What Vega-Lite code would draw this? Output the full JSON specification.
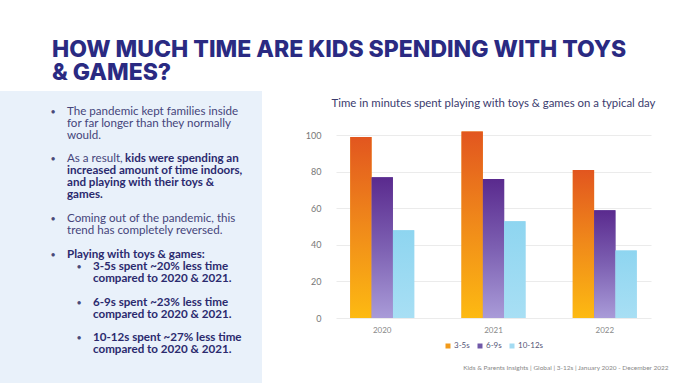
{
  "$schema": "https://vega.github.io/schema/vega-lite/v6.json",
  "background": "white",
  "padding": {"left": 0, "top": 38, "right": 0, "bottom": 0},
  "config": {"view": {"stroke": null}, "font": "Lato"},
  "columns": 2,
  "spacing": 43,
  "resolve": {"scale": {"color": "independent"}, "legend": {"color": "independent"}},
  "title": {
    "text": ["HOW MUCH TIME ARE KIDS SPENDING WITH TOYS", "& GAMES?"],
    "anchor": "start",
    "dx": 52,
    "font": "Inter",
    "fontSize": 23,
    "fontWeight": 800,
    "color": "#2a2a82",
    "lineHeight": 23.5,
    "offset": 6
  },
  "datasets": {
    "bars": [
      {"year": "2020", "group": "3-5s", "minutes": 99},
      {"year": "2020", "group": "6-9s", "minutes": 77},
      {"year": "2020", "group": "10-12s", "minutes": 48},
      {"year": "2021", "group": "3-5s", "minutes": 102},
      {"year": "2021", "group": "6-9s", "minutes": 76},
      {"year": "2021", "group": "10-12s", "minutes": 53},
      {"year": "2022", "group": "3-5s", "minutes": 81},
      {"year": "2022", "group": "6-9s", "minutes": 59},
      {"year": "2022", "group": "10-12s", "minutes": 37}
    ],
    "lines": [
      {"line": 0, "level": 1, "bullet": true, "bold": false, "cont": false, "text": "The pandemic kept families inside"},
      {"line": 1, "level": 1, "bullet": false, "bold": false, "cont": false, "text": "for far longer than they normally"},
      {"line": 2, "level": 1, "bullet": false, "bold": false, "cont": false, "text": "would."},
      {"line": 4, "level": 1, "bullet": true, "bold": false, "cont": false, "text": "As a result,"},
      {"line": 4, "level": 1, "bullet": false, "bold": true, "cont": true, "text": "kids were spending an"},
      {"line": 5, "level": 1, "bullet": false, "bold": true, "cont": false, "text": "increased amount of time indoors,"},
      {"line": 6, "level": 1, "bullet": false, "bold": true, "cont": false, "text": "and playing with their toys &"},
      {"line": 7, "level": 1, "bullet": false, "bold": true, "cont": false, "text": "games."},
      {"line": 9, "level": 1, "bullet": true, "bold": false, "cont": false, "text": "Coming out of the pandemic, this"},
      {"line": 10, "level": 1, "bullet": false, "bold": false, "cont": false, "text": "trend has completely reversed."},
      {"line": 12, "level": 1, "bullet": true, "bold": true, "cont": false, "text": "Playing with toys & games:"},
      {"line": 13, "level": 2, "bullet": true, "bold": true, "cont": false, "text": "3-5s spent ~20% less time"},
      {"line": 14, "level": 2, "bullet": false, "bold": true, "cont": false, "text": "compared to 2020 & 2021."},
      {"line": 16, "level": 2, "bullet": true, "bold": true, "cont": false, "text": "6-9s spent ~23% less time"},
      {"line": 17, "level": 2, "bullet": false, "bold": true, "cont": false, "text": "compared to 2020 & 2021."},
      {"line": 19, "level": 2, "bullet": true, "bold": true, "cont": false, "text": "10-12s spent ~27% less time"},
      {"line": 20, "level": 2, "bullet": false, "bold": true, "cont": false, "text": "compared to 2020 & 2021."}
    ]
  },
  "concat": [
    {
      "width": 262,
      "height": 293,
      "view": {"fill": "#e9f1fa", "stroke": null},
      "data": {"name": "lines"},
      "encoding": {
        "x": {"field": "level", "type": "quantitative", "scale": {"domain": [-1.577, 8.5], "nice": false, "zero": false}, "axis": null},
        "y": {"field": "line", "type": "quantitative", "scale": {"domain": [-1.735, 22.825], "nice": false, "zero": false, "reverse": true}, "axis": null}
      },
      "layer": [
        {
          "transform": [{"filter": "datum.bullet"}],
          "mark": {"type": "text", "text": "•", "dx": -14, "align": "center", "baseline": "middle", "fontSize": 9, "color": "#4a4a78"}
        },
        {
          "transform": [{"filter": "!datum.bold"}],
          "mark": {"type": "text", "align": "left", "baseline": "middle", "fontSize": 11.6, "color": "#45457a"},
          "encoding": {"text": {"field": "text"}}
        },
        {
          "transform": [{"filter": "datum.bold && !datum.cont"}],
          "mark": {"type": "text", "align": "left", "baseline": "middle", "fontSize": 11.6, "fontWeight": "bold", "color": "#2b2a6e"},
          "encoding": {"text": {"field": "text"}}
        },
        {
          "transform": [{"filter": "datum.cont"}],
          "mark": {"type": "text", "align": "left", "baseline": "middle", "dx": 58, "fontSize": 11.6, "fontWeight": "bold", "color": "#2b2a6e"},
          "encoding": {"text": {"field": "text"}}
        }
      ]
    },
    {
      "title": {
        "text": "Kids & Parents Insights | Global | 3-12s | January 2020 - December 2022",
        "orient": "bottom",
        "anchor": "end",
        "fontSize": 6.5,
        "fontWeight": "normal",
        "color": "#888888",
        "offset": 15,
        "dx": 13
      },
      "resolve": {"scale": {"color": "independent"}, "legend": {"color": "independent"}},
      "vconcat": [
        {
          "width": 315,
          "height": 227,
          "data": {"name": "bars"},
          "title": {"text": "Time in minutes spent playing with toys & games on a typical day", "fontSize": 11.4, "fontWeight": "normal", "color": "#3b3b6e", "anchor": "middle", "offset": -18},
          "encoding": {
            "x": {"field": "year", "type": "nominal", "scale": {"paddingInner": 0.425, "paddingOuter": 0.128},
                  "axis": {"title": null, "labelAngle": 0, "labelFontSize": 8, "labelColor": "#888888", "labelPadding": 8, "ticks": false, "domain": false, "grid": false}},
            "xOffset": {"field": "group", "type": "nominal", "scale": {"domain": ["3-5s", "6-9s", "10-12s"], "paddingInner": 0, "paddingOuter": 0}},
            "y": {"field": "minutes", "type": "quantitative", "scale": {"domain": [0, 124.2], "nice": false},
                  "axis": {"title": null, "values": [0, 20, 40, 60, 80, 100], "labelFontSize": 9, "labelColor": "#777777", "labelPadding": 15, "ticks": false, "domain": false, "gridColor": "#e6e6e6", "gridWidth": 0.8}}
          },
          "layer": [
            {
              "mark": {"type": "bar"},
              "encoding": {
                "color": {
                  "field": "group", "type": "nominal",
                  "scale": {"domain": ["3-5s", "6-9s", "10-12s"], "range": ["#f29a1a", "#7058a8", "#a3dbf2"]},
                  "legend": {"orient": "none", "legendX": 108, "legendY": 251, "title": null, "direction": "horizontal", "symbolType": "square", "symbolSize": 25, "symbolStrokeWidth": 0, "labelFontSize": 8, "labelColor": "#555577", "columnPadding": 6, "labelOffset": 2}
                }
              }
            },
            {
              "transform": [{"filter": "datum.group == '3-5s'"}],
              "mark": {"type": "bar", "fill": {"gradient": "linear", "x1": 0, "y1": 0, "x2": 0, "y2": 1, "stops": [{"offset": 0, "color": "#e2561f"}, {"offset": 0.5, "color": "#f08a1a"}, {"offset": 1, "color": "#fdba12"}]}}
            },
            {
              "transform": [{"filter": "datum.group == '6-9s'"}],
              "mark": {"type": "bar", "fill": {"gradient": "linear", "x1": 0, "y1": 0, "x2": 0, "y2": 1, "stops": [{"offset": 0, "color": "#5a2a8e"}, {"offset": 0.5, "color": "#7d60b2"}, {"offset": 1, "color": "#a99bd8"}]}}
            },
            {
              "transform": [{"filter": "datum.group == '10-12s'"}],
              "mark": {"type": "bar", "fill": {"gradient": "linear", "x1": 0, "y1": 0, "x2": 0, "y2": 1, "stops": [{"offset": 0, "color": "#8ed5f0"}, {"offset": 1, "color": "#a8dff4"}]}}
            }
          ]
        }
      ]
    }
  ]
}
